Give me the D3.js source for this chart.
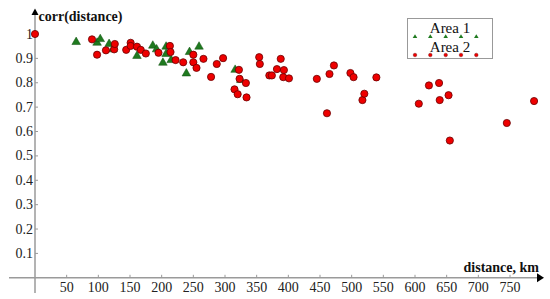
<!DOCTYPE html>
<html><head><meta charset="utf-8">
<script src="https://cdn.jsdelivr.net/npm/d3@7"></script>
<style>
html,body{margin:0;padding:0;background:#fff;}
svg{display:block;}
text{font-family:'Liberation Serif','Times New Roman','DejaVu Serif',serif;}
</style></head>
<body>
<svg id="chart" width="550" height="299"></svg>
<script>
const xTicks = [50,100,150,200,250,300,350,400,450,500,550,600,650,700,750];
const yTicks = [0.1,0.2,0.3,0.4,0.5,0.6,0.7,0.8,0.9,1];
const seriesNames = ["Area 1","Area 2"];
const area1Dist = [65,98,103,117,123,161,186,192,202,207,207,215,239,244,259,316,325];
const area1Corr = [0.967,0.964,0.979,0.959,0.937,0.910,0.952,0.937,0.882,0.948,0.918,0.893,0.838,0.926,0.948,0.853,0.811];
const area2Dist = [0,90,98,112,125,126,144,151,151,161,167,175,195,213,214,222,234,250,250,255,266,278,287,297,315,320,322,323,333,334,354,355,370,374,382,388,392,393,401,445,461,465,472,498,503,517,520,539,606,622,638,639,653,655,745,788];
const area2Corr = [1.0,0.978,0.915,0.933,0.937,0.959,0.935,0.964,0.951,0.948,0.935,0.920,0.923,0.951,0.926,0.893,0.884,0.915,0.884,0.861,0.898,0.824,0.877,0.901,0.773,0.753,0.853,0.816,0.799,0.740,0.905,0.877,0.830,0.830,0.856,0.898,0.823,0.852,0.818,0.816,0.675,0.836,0.871,0.840,0.823,0.729,0.755,0.822,0.714,0.789,0.799,0.729,0.749,0.563,0.635,0.725];

const FONT = "'Liberation Serif','Times New Roman','DejaVu Serif',serif";
const svg = d3.select("#chart");
const x = d3.scaleLinear().domain([0,750]).range([35,510]);
const y = d3.scaleLinear().domain([0,1]).range([277.8,34]);
const axisColor = "#9a9a9a";
const x0 = x(0), y0 = y(0);

svg.append("line").attr("x1",9).attr("x2",537).attr("y1",y0).attr("y2",y0).attr("stroke",axisColor).attr("stroke-width",1.5);
svg.append("line").attr("x1",x0).attr("x2",x0).attr("y1",293).attr("y2",14).attr("stroke",axisColor).attr("stroke-width",1.5);
svg.append("path").attr("d",`M537,${y0-4.5}L544,${y0}L537,${y0+4.5}Z`).attr("fill","#000");
svg.append("path").attr("d",`M${x0-3.5},15L${x0},8.5L${x0+3.5},15Z`).attr("fill","#000");

const xt = svg.append("g");
xt.selectAll("line").data(xTicks).join("line")
  .attr("x1",d=>x(d)).attr("x2",d=>x(d)).attr("y1",y0-3).attr("y2",y0).attr("stroke",axisColor);
xt.selectAll("text").data(xTicks).join("text")
  .attr("x",d=>x(d)).attr("y",292).attr("text-anchor","middle").attr("font-family",FONT)
  .attr("font-size",14).attr("fill","#222").text(d=>d);
const yt = svg.append("g");
yt.selectAll("line").data(yTicks).join("line")
  .attr("x1",x0).attr("x2",x0+3).attr("y1",d=>y(d)).attr("y2",d=>y(d)).attr("stroke",axisColor);
yt.selectAll("text").data(yTicks).join("text")
  .attr("x",33).attr("y",d=>y(d)+4.5).attr("text-anchor","end").attr("font-family",FONT)
  .attr("font-size",14).attr("fill","#222").text(d=>d===1?"1":d3.format(".1f")(d));

svg.append("text").attr("x",38.5).attr("y",21).attr("font-family",FONT).attr("font-size",14).attr("font-weight","bold").attr("fill","#111").text("corr(distance)");
svg.append("text").attr("x",539).attr("y",272).attr("text-anchor","end").attr("font-family",FONT).attr("font-size",14).attr("font-weight","bold").attr("fill","#111").text("distance, km");

const green = "#1f7a1f", red = "#ee0000", redStroke = "#6a0000";
const tri = d3.symbol().type(d3.symbolTriangle).size(32);

const a2 = area2Dist.map((d,i)=>({d, v:area2Corr[i]}));
const a1 = area1Dist.map((d,i)=>({d, v:area1Corr[i]}));
svg.append("g").selectAll("path").data(a1).join("path")
  .attr("d",tri).attr("transform",p=>`translate(${x(p.d)},${y(p.v)})`)
  .attr("fill",green).attr("stroke","#0f4f0f").attr("stroke-width",0.5);
svg.append("g").selectAll("circle").data(a2).join("circle")
  .attr("cx",p=>x(p.d)).attr("cy",p=>y(p.v)).attr("r",3.6)
  .attr("fill",red).attr("stroke",redStroke).attr("stroke-width",0.8);

const lg = svg.append("g");
lg.append("rect").attr("x",407.5).attr("y",18.5).attr("width",85).attr("height",40)
  .attr("fill","#fff").attr("stroke","#999").attr("stroke-width",1);
lg.append("text").attr("x",450).attr("y",33).attr("text-anchor","middle").attr("font-family",FONT).attr("font-size",15).attr("fill","#111").text(seriesNames[0]);
lg.append("text").attr("x",450).attr("y",52).attr("text-anchor","middle").attr("font-family",FONT).attr("font-size",15).attr("fill","#111").text(seriesNames[1]);
const lx = [415,430.3,445.7,461,476.3];
lg.selectAll(".lt").data(lx).join("path").attr("class","lt")
  .attr("d",d3.symbol().type(d3.symbolTriangle).size(9)).attr("transform",d=>`translate(${d},36.8)`).attr("fill",green);
lg.selectAll(".lc").data(lx).join("circle").attr("class","lc")
  .attr("cx",d=>d).attr("cy",55).attr("r",1.8).attr("fill",red).attr("stroke",redStroke).attr("stroke-width",0.4);
</script>
</body></html>
